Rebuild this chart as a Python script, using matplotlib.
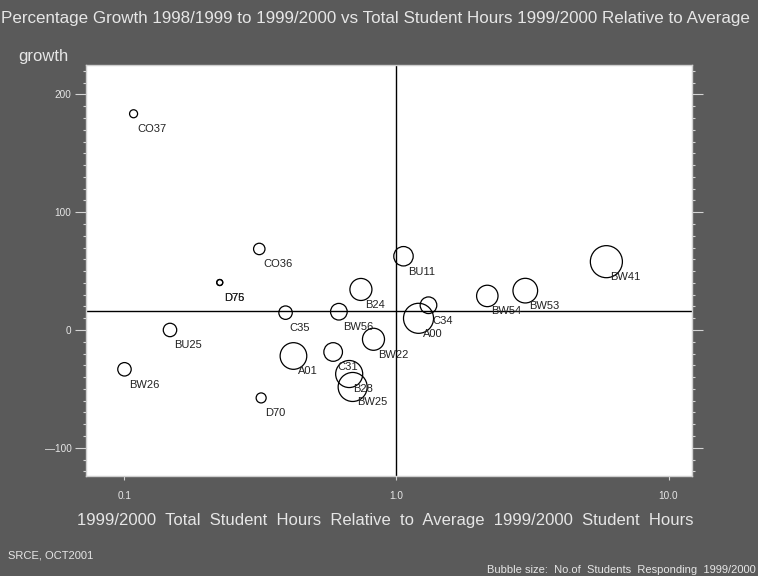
import matplotlib
matplotlib.use("Agg")
import matplotlib.pyplot as plt
from matplotlib import font_manager
from matplotlib.ticker import FixedLocator, FixedFormatter, MultipleLocator, NullLocator

# Departments: relative student hours (x), percentage growth (y), students responding (bubble size)
departments = ["CO37", "CO36", "D76", "D75", "C35", "BW56", "B24", "BU25", "BW26", "A01",
               "C31", "B28", "BW25", "D70", "BW22", "BU11", "C34", "A00", "BW54", "BW53", "BW41"]
relative_hours = [0.108, 0.313, 0.224, 0.224, 0.391, 0.614, 0.740, 0.147, 0.100, 0.418,
                  0.585, 0.670, 0.690, 0.318, 0.823, 1.061, 1.311, 1.205, 2.157, 2.975, 5.91]
growth_pct = [183.6, 68.8, 40.3, 40.3, 14.7, 15.5, 34.4, 0.0, -33.4, -22.1,
              -18.7, -37.4, -48.4, -57.7, -7.9, 62.6, 21.0, 9.9, 28.9, 33.4, 58.0]
students = [32, 65, 18, 18, 90, 138, 242, 90, 90, 354,
            173, 365, 420, 50, 242, 188, 138, 450, 229, 303, 512]

average_hours = 1.0
average_growth = 16.4

x_ticks = [0.1, 1.0, 10.0]
x_tick_labels = ["0.1", "1.0", "10.0"]
y_ticks = [-100, 0, 100, 200]
y_tick_labels = ["\u2014100", "0", "100", "200"]

BG = "#5a5a5a"
FG = "#e6e6e6"
TICK = "#d4d4d4"

installed = {f.name for f in font_manager.fontManager.ttflist}
BASE = "Liberation Sans" if "Liberation Sans" in installed else "DejaVu Sans"

W, H = 758, 576
fig = plt.figure(figsize=(W / 100, H / 100), dpi=100, facecolor=BG)

def px(x, y):
    return x / W, 1 - y / H

left, right, top, bottom = 86, 692, 65, 476
ax = fig.add_axes([left / W, 1 - bottom / H, (right - left) / W, (bottom - top) / H])
ax.set_facecolor("white")
for sp in ax.spines.values():
    sp.set_color("#cfcfcf")
    sp.set_linewidth(1.0)

ax.set_xscale("log")
ax.set_xlim(0.0722, 12.2)
ax.set_ylim(-124, 225)

# quadrant reference lines at the averages
ax.axvline(average_hours, color="black", lw=1.0, zorder=1)
ax.axhline(average_growth, color="black", lw=1.0, zorder=1)

bubble_scale = 1.04
ax.scatter(relative_hours, growth_pct, s=[n * bubble_scale for n in students],
           facecolors="none", edgecolors="black", linewidths=0.9, zorder=3)

for name, xv, yv in zip(departments, relative_hours, growth_pct):
    ax.annotate(name, (xv, yv), xytext=(3.0, -11.0), textcoords="offset points",
                ha="left", va="center", fontsize=8, family=BASE, color="#222222", zorder=4)

# axes ticks
ax.xaxis.set_major_locator(FixedLocator(x_ticks))
ax.xaxis.set_major_formatter(FixedFormatter(x_tick_labels))
ax.xaxis.set_minor_locator(NullLocator())
ax.yaxis.set_major_locator(FixedLocator(y_ticks))
ax.yaxis.set_major_formatter(FixedFormatter(y_tick_labels))
ax.yaxis.set_minor_locator(MultipleLocator(10))

ax.tick_params(axis="x", which="major", direction="out", length=3, width=0.8,
               color=TICK, labelcolor=FG, labelsize=7.2, pad=7.5)
ax.tick_params(axis="y", which="major", direction="out", length=8, width=0.8,
               color=TICK, labelcolor=FG, labelsize=7.2, pad=2.4, right=True)
ax.tick_params(axis="y", which="minor", direction="out", length=2.2, width=0.8,
               color=TICK, right=True)
for lab in ax.get_xticklabels() + ax.get_yticklabels():
    lab.set_family(BASE)

fig.text(*px(1, 19), "Percentage Growth 1998/1999 to 1999/2000 vs Total Student Hours 1999/2000 Relative to Average",
         ha="left", va="center", fontsize=12.25, family=BASE, color=FG)
fig.text(*px(18, 56), "growth", ha="left", va="center", fontsize=12, family=BASE, color=FG)
fig.text(*px(385, 521), "1999/2000  Total  Student  Hours  Relative  to  Average  1999/2000  Student  Hours",
         ha="center", va="center", fontsize=12.0, family=BASE, color=FG)
fig.text(*px(8, 555), "SRCE, OCT2001", ha="left", va="center", fontsize=8, family=BASE, color=FG)
fig.text(*px(756, 570), "Bubble size:  No.of  Students  Responding  1999/2000",
         ha="right", va="center", fontsize=8, family=BASE, color=FG)

fig.savefig("out.png", dpi=100, facecolor=BG)
